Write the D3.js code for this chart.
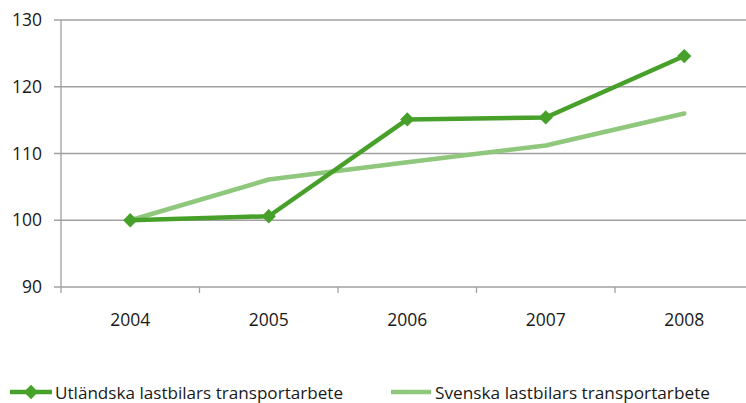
<!DOCTYPE html>
<html>
<head>
<meta charset="utf-8">
<script src="https://cdn.jsdelivr.net/npm/d3@7"></script>
<style>
  body { margin: 0; background: #fff; }
  text { font-family: "Open Sans", "Liberation Sans", sans-serif; fill: #1a1a1a; }
</style>
</head>
<body>
<svg id="chart" width="746" height="403"></svg>
<script>
var years = ["2004", "2005", "2006", "2007", "2008"];
var utlandska = [100, 100.6, 115.1, 115.4, 124.6];
var svenska = [100, 106.1, 108.7, 111.2, 116.0];
var yTicks = [90, 100, 110, 120, 130];
var seriesNames = ["Utländska lastbilars transportarbete", "Svenska lastbilars transportarbete"];

var darkGreen = "#46a02a";
var lightGreen = "#8fc77d";

var svg = d3.select("#chart");
var plotLeft = 61, plotRight = 753.5, plotTop = 20, plotBottom = 287;

var x = d3.scaleBand().domain(years).range([plotLeft, plotRight]);
var y = d3.scaleLinear().domain([90, 130]).range([plotBottom, plotTop]);

// gridlines
svg.append("g")
    .selectAll("line")
    .data(yTicks)
    .enter()
    .append("line")
    .attr("x1", plotLeft - 7)
    .attr("x2", 746)
    .attr("y1", function(d){ return y(d); })
    .attr("y2", function(d){ return y(d); })
    .attr("stroke", "#a0a0a0")
    .attr("stroke-width", 1.3);

// y axis line
svg.append("line")
    .attr("x1", plotLeft).attr("x2", plotLeft)
    .attr("y1", plotTop).attr("y2", plotBottom)
    .attr("stroke", "#a0a0a0").attr("stroke-width", 1.3);

// x tick marks at band boundaries
var bounds = years.map(function(d){ return x(d); }).concat([plotRight]);
svg.append("g")
    .selectAll("line")
    .data(bounds)
    .enter()
    .append("line")
    .attr("x1", function(d){ return d; })
    .attr("x2", function(d){ return d; })
    .attr("y1", plotBottom)
    .attr("y2", plotBottom + 6)
    .attr("stroke", "#a0a0a0").attr("stroke-width", 1.3);

// y labels
svg.append("g")
    .selectAll("text")
    .data(yTicks)
    .enter()
    .append("text")
    .attr("x", 42)
    .attr("y", function(d){ return y(d) + 6; })
    .attr("text-anchor", "end")
    .attr("font-size", 17.5)
    .text(function(d){ return d; });

// x labels
svg.append("g")
    .selectAll("text")
    .data(years)
    .enter()
    .append("text")
    .attr("x", function(d){ return x(d) + x.bandwidth() / 2; })
    .attr("y", 326)
    .attr("text-anchor", "middle")
    .attr("font-size", 17.5)
    .text(function(d){ return d; });

var line = d3.line()
    .x(function(d, i){ return x(years[i]) + x.bandwidth() / 2; })
    .y(function(d){ return y(d); });

svg.append("path")
    .datum(svenska)
    .attr("d", line)
    .attr("fill", "none")
    .attr("stroke", lightGreen)
    .attr("stroke-width", 4.5)
    .attr("stroke-linecap", "round")
    .attr("stroke-linejoin", "round");

svg.append("path")
    .datum(utlandska)
    .attr("d", line)
    .attr("fill", "none")
    .attr("stroke", darkGreen)
    .attr("stroke-width", 4.5)
    .attr("stroke-linejoin", "round");

var diamond = d3.symbol().type(d3.symbolDiamond2).size(130);
svg.append("g")
    .selectAll("path")
    .data(utlandska)
    .enter()
    .append("path")
    .attr("d", diamond)
    .attr("transform", function(d, i){
        return "translate(" + (x(years[i]) + x.bandwidth() / 2) + "," + y(d) + ")";
    })
    .attr("fill", darkGreen);

// legend
var legend = svg.append("g");
legend.append("line")
    .attr("x1", 10).attr("x2", 52).attr("y1", 392).attr("y2", 392)
    .attr("stroke", darkGreen).attr("stroke-width", 4.5);
legend.append("path")
    .attr("d", diamond)
    .attr("transform", "translate(31,392)")
    .attr("fill", darkGreen);
legend.append("text")
    .attr("x", 55).attr("y", 399)
    .attr("font-size", 17)
    .attr("textLength", 288)
    .attr("lengthAdjust", "spacingAndGlyphs")
    .text(seriesNames[0]);

legend.append("line")
    .attr("x1", 391).attr("x2", 431).attr("y1", 392).attr("y2", 392)
    .attr("stroke", lightGreen).attr("stroke-width", 4.5);
legend.append("text")
    .attr("x", 435).attr("y", 399)
    .attr("font-size", 17)
    .attr("textLength", 275)
    .attr("lengthAdjust", "spacingAndGlyphs")
    .text(seriesNames[1]);
</script>
</body>
</html>
